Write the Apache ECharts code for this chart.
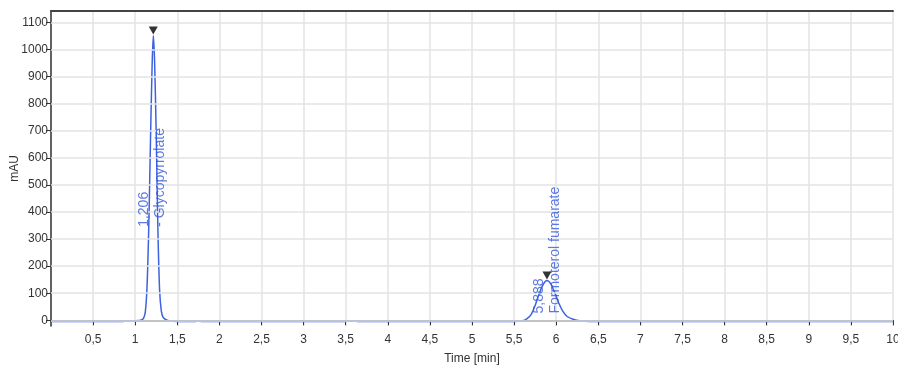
<!DOCTYPE html>
<html>
<head>
<meta charset="utf-8">
<script src="https://cdn.jsdelivr.net/npm/echarts@6/dist/echarts.min.js"></script>
<style>
  html, body { margin: 0; padding: 0; background: #fff; }
  #chart { width: 898px; height: 367px; }
</style>
</head>
<body>
<div id="chart"></div>
<script>
// chromatogram trace: [time min, mAU]
const trace = [
  [0, -4], [0.5, -4], [0.85, -4], [0.95, -2], [1.05, -1], [1.08, 2], [1.10, 8],
  [1.12, 30], [1.14, 120], [1.16, 330], [1.18, 640], [1.20, 930], [1.215, 1052],
  [1.23, 960], [1.25, 680], [1.27, 330], [1.29, 110], [1.31, 35], [1.33, 12],
  [1.36, 3], [1.40, -2], [1.5, -4], [1.72, -4], [1.75, -2], [1.78, -4],
  [3.5, -4], [3.55, -2], [3.6, -2], [3.64, -4],
  [5.5, -4], [5.6, -2], [5.65, 5], [5.7, 20], [5.75, 55], [5.8, 100], [5.85, 135],
  [5.89, 147], [5.93, 137], [5.98, 104], [6.03, 64], [6.08, 33], [6.13, 14],
  [6.2, 4], [6.28, -2], [6.4, -4], [10, -4]
];
// peak apex markers
const peakApex = [[1.215, 1052], [5.89, 147]];
// peak annotations: [retention time, label base mAU, label]
const peakLabels = [
  [1.206, 345, "1,206\n- Glycopyrrolate"],
  [5.888, 25, "5,888\nFormoterol fumarate"]
];
const yTicks = [0, 100, 200, 300, 400, 500, 600, 700, 800, 900, 1000, 1100];

const chart = echarts.init(document.getElementById("chart"), null, { renderer: "canvas" });
const axisColor = "#333";
const gridColor = "#e3e3e3";
const traceColor = "#3d62e0";
const font = "Liberation Sans, Arial, sans-serif";

chart.setOption({
  animation: false,
  grid: { left: 51, right: 5, top: 11, bottom: 41, outerBoundsMode: "none", containLabel: false },
  xAxis: [
    {
      type: "value", min: 0, max: 10, interval: 0.5,
      name: "Time [min]", nameLocation: "middle", nameGap: 27,
      nameTextStyle: { color: "#333", fontSize: 12, fontFamily: font },
      axisLine: { lineStyle: { color: axisColor, width: 1.5 } },
      axisTick: { length: 5, lineStyle: { color: axisColor } },
      axisLabel: {
        color: "#333", fontSize: 12, fontFamily: font, margin: 8, showMinLabel: false,
        formatter: (v) => String(v).replace(".", ",")
      },
      splitLine: { show: true, lineStyle: { color: gridColor, width: 1.5 } }
    },
    {
      type: "value", position: "top", min: 0, max: 10,
      axisLine: { show: true, lineStyle: { color: "#444", width: 2 } },
      axisTick: { show: false }, axisLabel: { show: false }, splitLine: { show: false }
    }
  ],
  yAxis: {
    type: "value", min: -21, max: 1142,
    name: "mAU", nameLocation: "middle", nameGap: 30, nameMoveOverlap: false,
    nameTextStyle: { color: "#333", fontSize: 12, fontFamily: font },
    axisLine: { show: true, lineStyle: { color: axisColor, width: 1.5 } },
    axisTick: { show: true, length: 5, customValues: yTicks, lineStyle: { color: axisColor } },
    axisLabel: {
      color: "#333", fontSize: 12, fontFamily: font, margin: 3, customValues: yTicks,
      formatter: (v) => String(v)
    },
    splitLine: { show: false }
  },
  series: [
    {
      type: "line", data: [], silent: true, z: 0,
      markLine: {
        silent: true, symbol: "none", label: { show: false },
        lineStyle: { color: gridColor, width: 1.5, type: "solid" },
        data: yTicks.map((v) => ({ yAxis: v }))
      }
    },
    {
      type: "line", data: trace, showSymbol: false, smooth: 0.3, z: 3,
      lineStyle: { color: traceColor, width: 1.5 }
    },
    {
      type: "scatter", data: peakApex, symbol: "triangle", symbolRotate: 180,
      symbolSize: [9, 8], symbolOffset: [0, -5], z: 4,
      itemStyle: { color: "#000" }
    },
    {
      type: "scatter", z: 5, symbolSize: 0,
      data: peakLabels.map((p) => ({ value: [p[0], p[1]], name: p[2] })),
      label: {
        show: true, position: "inside", rotate: 90, align: "left", verticalAlign: "middle",
        color: "#3558dc", fontSize: 14, lineHeight: 16, fontFamily: font,
        textBorderWidth: 0, textShadowBlur: 0,
        formatter: (p) => p.name
      }
    }
  ]
});
</script>
</body>
</html>
